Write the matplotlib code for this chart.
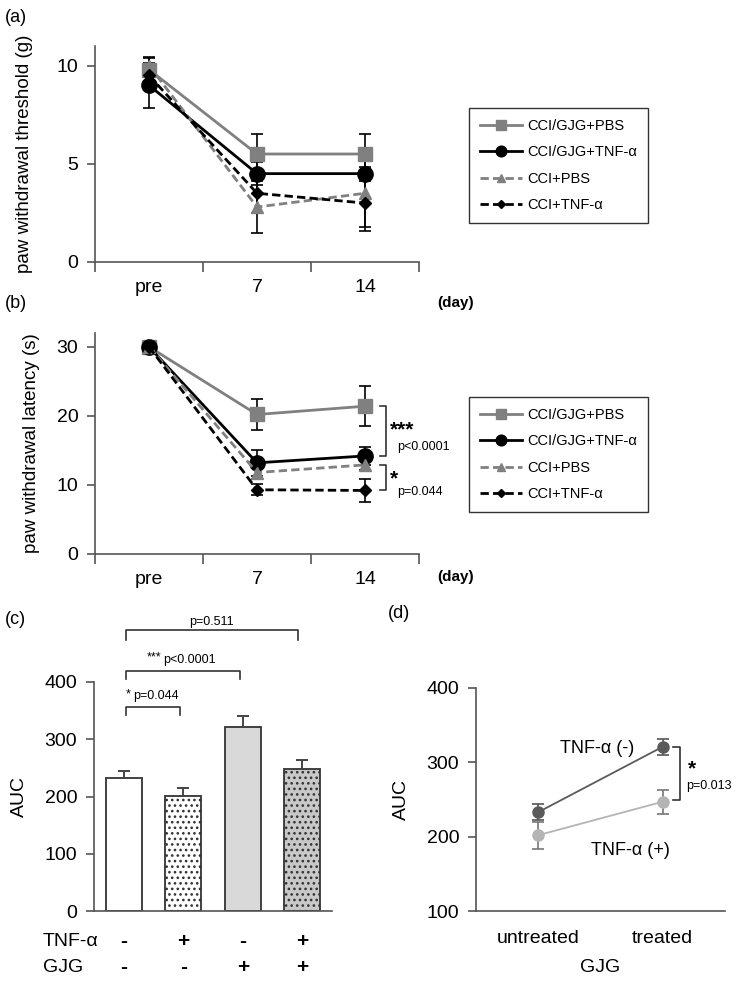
import matplotlib
matplotlib.use("Agg")
import matplotlib.pyplot as plt
import numpy as np

plt.rcParams['font.family'] = ['Liberation Sans', 'DejaVu Sans']
plt.rcParams['hatch.linewidth'] = 1.1

# ---------------- data ----------------
days = ["pre", "7", "14"]
series_names = ["CCI/GJG+PBS", "CCI/GJG+TNF-\u03b1", "CCI+PBS", "CCI+TNF-\u03b1"]

# (a) paw withdrawal threshold (g)
thr_gjg_pbs = [9.8, 5.5, 5.5]
thr_gjg_pbs_err = [0.6, 1.0, 1.0]
thr_gjg_tnf = [9.0, 4.5, 4.5]
thr_gjg_tnf_err = [1.15, 0.6, 0.35]
thr_cci_pbs = [10.0, 2.8, 3.5]
thr_cci_pbs_err = [0.45, 1.3, 1.7]
thr_cci_tnf = [9.5, 3.5, 3.0]
thr_cci_tnf_err = [0.5, 1.0, 1.4]

# (b) paw withdrawal latency (s)
lat_gjg_pbs = [30.0, 20.2, 21.4]
lat_gjg_pbs_err = [0.3, 2.3, 2.9]
lat_gjg_tnf = [30.0, 13.2, 14.2]
lat_gjg_tnf_err = [0.3, 1.9, 1.3]
lat_cci_pbs = [30.0, 11.8, 12.9]
lat_cci_pbs_err = [0.3, 0.9, 0.8]
lat_cci_tnf = [30.0, 9.3, 9.2]
lat_cci_tnf_err = [0.3, 0.8, 1.7]

# (c) AUC bars
auc_vals = [233, 201, 322, 248]
auc_err = [11, 13, 19, 16]
tnf_signs = ["-", "+", "-", "+"]
gjg_signs = ["-", "-", "+", "+"]

# (d) AUC interaction
gjg_levels = ["untreated", "treated"]
auc_tnf_neg = [233, 321]
auc_tnf_neg_err = [11, 11]
auc_tnf_pos = [202, 247]
auc_tnf_pos_err = [18, 16]

# ---------------- figure ----------------
W, H = 742, 982
fig = plt.figure(figsize=(W / 100, H / 100), dpi=100)

def ax_at(l, r, t, b):
    return fig.add_axes([l / W, 1 - b / H, (r - l) / W, (b - t) / H])

SP = '#555555'
GRAY = '#808080'

styles = [
    dict(color=GRAY, ls='-', marker='s', ms=10, lw=2),
    dict(color='black', ls='-', marker='o', ms=11, lw=2),
    dict(color=GRAY, ls=(0, (3, 1.5)), marker='^', ms=8, lw=2),
    dict(color='black', ls=(0, (3, 1.5)), marker='D', ms=6, lw=2),
]

def style_line_axes(ax, ylim, yticks):
    for s in ['top', 'right']:
        ax.spines[s].set_visible(False)
    for s in ['left', 'bottom']:
        ax.spines[s].set_color(SP)
        ax.spines[s].set_linewidth(1.2)
    ax.set_xlim(0, 3)
    ax.set_ylim(*ylim)
    ax.set_yticks(yticks)
    ax.set_xticks([0, 1, 2, 3])
    ax.set_xticklabels([])
    ax.set_xticks([0.5, 1.5, 2.5], minor=True)
    ax.set_xticklabels(days, minor=True)
    ax.tick_params(axis='x', which='minor', length=0, labelsize=14, pad=12)
    ax.tick_params(axis='x', which='major', length=7, width=1.2, color=SP)
    ax.tick_params(axis='y', length=6, width=1.2, color=SP, labelsize=14, pad=6)

def draw_lines(ax, vals, errs):
    x = np.array([0.5, 1.5, 2.5])
    handles = []
    for v, e in zip(vals, errs):
        ax.errorbar(x, v, yerr=e, fmt='none', ecolor='black', elinewidth=1.2,
                    capsize=4, capthick=1.2, zorder=2)
    for v, st, nm in zip(vals, styles, series_names):
        h, = ax.plot(x, v, color=st['color'], ls=st['ls'], lw=st['lw'],
                     marker=st['marker'], ms=st['ms'], mfc=st['color'],
                     mec=st['color'], label=nm, zorder=3)
        handles.append(h)
    return handles

def add_legend(ax, handles, top):
    leg = ax.legend(handles=handles, loc='upper left',
                    bbox_to_anchor=(469 / W, 1 - top / H),
                    bbox_transform=fig.transFigure, borderaxespad=0,
                    fontsize=10.5, handlelength=2.9, handletextpad=0.35,
                    labelspacing=0.85, borderpad=0.75, markerscale=0.7,
                    fancybox=False, framealpha=1)
    leg.get_frame().set_edgecolor('#333333')
    leg.get_frame().set_linewidth(1.0)

# (a)
axa = ax_at(95, 419, 46, 262)
style_line_axes(axa, (0, 11), [0, 5, 10])
ha = draw_lines(axa, [thr_gjg_pbs, thr_gjg_tnf, thr_cci_pbs, thr_cci_tnf],
                [thr_gjg_pbs_err, thr_gjg_tnf_err, thr_cci_pbs_err, thr_cci_tnf_err])
axa.set_ylabel("paw withdrawal threshold (g)", fontsize=13.5, labelpad=17)
add_legend(axa, ha, 108)
fig.text(5 / W, 1 - 17 / H, "(a)", fontsize=13, va='center', ha='left')
fig.text(437 / W, 1 - 303 / H, "(day)", fontsize=11, fontweight='bold', va='center', ha='left')

# (b)
axb = ax_at(95, 419, 333, 554)
style_line_axes(axb, (0, 32), [0, 10, 20, 30])
hb = draw_lines(axb, [lat_gjg_pbs, lat_gjg_tnf, lat_cci_pbs, lat_cci_tnf],
                [lat_gjg_pbs_err, lat_gjg_tnf_err, lat_cci_pbs_err, lat_cci_tnf_err])
axb.set_ylabel("paw withdrawal latency (s)", fontsize=13.5, labelpad=12)
add_legend(axb, hb, 397)
fig.text(5 / W, 1 - 303 / H, "(b)", fontsize=13, va='center', ha='left')
fig.text(437 / W, 1 - 577 / H, "(day)", fontsize=11, fontweight='bold', va='center', ha='left')

# brackets in (b)
def vbracket(ax, x0, x1, y0, y1, color='#333333'):
    ax.plot([x0, x1, x1, x0], [y0, y0, y1, y1], color=color, lw=1.2, clip_on=False)

vbracket(axb, 2.64, 2.69, lat_gjg_pbs[2], lat_gjg_tnf[2])
axb.text(2.73, 18.0, "***", fontsize=15, fontweight='bold', ha='left', va='center', clip_on=False)
axb.text(2.80, 15.5, "p<0.0001", fontsize=9, ha='left', va='center', clip_on=False)
vbracket(axb, 2.64, 2.69, lat_cci_pbs[2], lat_cci_tnf[2])
axb.text(2.73, 10.9, "*", fontsize=15, fontweight='bold', ha='left', va='center', clip_on=False)
axb.text(2.80, 9.0, "p=0.044", fontsize=9, ha='left', va='center', clip_on=False)

# (c)
axc = ax_at(94, 332, 682, 911)
for s in ['top', 'right']:
    axc.spines[s].set_visible(False)
for s in ['left', 'bottom']:
    axc.spines[s].set_color(SP)
    axc.spines[s].set_linewidth(1.2)
xc = np.arange(4)
facecolors = ['white', 'white', '#d9d9d9', '#c8c8c8']
hatches = [None, '...', None, '...']
for i in range(4):
    axc.bar(xc[i], auc_vals[i], width=0.6, color=facecolors[i], edgecolor='#333333',
            linewidth=1.3, hatch=hatches[i], zorder=2)
axc.errorbar(xc, auc_vals, yerr=[np.zeros(4), auc_err], fmt='none', ecolor='#444444',
             elinewidth=1.4, capsize=4, capthick=1.4, zorder=3)
axc.set_xlim(-0.5, 3.5)
axc.set_ylim(0, 400)
axc.set_yticks([0, 100, 200, 300, 400])
axc.set_xticks([])
axc.tick_params(axis='y', length=6, width=1.2, color=SP, labelsize=14, pad=6)
axc.set_ylabel("AUC", fontsize=14, labelpad=12)

def hbracket(ax, x0, x1, y, leg):
    ax.plot([x0, x0, x1, x1], [y - leg, y, y, y - leg], color='#333333', lw=1.2, clip_on=False)

hbracket(axc, 0.03, 2.93, 491, 17)
axc.text(1.48, 505, "p=0.511", fontsize=9, ha='center', va='center', clip_on=False)
hbracket(axc, 0.03, 1.96, 419, 14)
axc.text(0.38, 443, "***", fontsize=9, ha='left', va='center', clip_on=False)
axc.text(0.66, 439, "p<0.0001", fontsize=9, ha='left', va='center', clip_on=False)
hbracket(axc, 0.03, 0.94, 357, 14)
axc.text(0.03, 379, "*", fontsize=9, ha='left', va='center', clip_on=False)
axc.text(0.15, 375, "p=0.044", fontsize=9, ha='left', va='center', clip_on=False)

for i in range(4):
    axc.text(xc[i], -0.135, tnf_signs[i], transform=axc.get_xaxis_transform(),
             fontsize=15, fontweight='bold', ha='center', va='center', clip_on=False)
    axc.text(xc[i], -0.245, gjg_signs[i], transform=axc.get_xaxis_transform(),
             fontsize=15, fontweight='bold', ha='center', va='center', clip_on=False)
fig.text(43 / W, 1 - 942 / H, "TNF-\u03b1", fontsize=14, ha='left', va='center')
fig.text(43 / W, 1 - 967 / H, "GJG", fontsize=14, ha='left', va='center')
fig.text(5 / W, 1 - 619 / H, "(c)", fontsize=13, va='center', ha='left')

# (d)
axd = ax_at(476, 725, 688, 911)
for s in ['top', 'right']:
    axd.spines[s].set_visible(False)
for s in ['left', 'bottom']:
    axd.spines[s].set_color(SP)
    axd.spines[s].set_linewidth(1.2)
xd = np.arange(2)
c_neg, c_pos = '#5a5a5a', '#b4b4b4'
axd.errorbar(xd, auc_tnf_pos, yerr=auc_tnf_pos_err, color=c_pos, lw=1.3, marker='o', ms=8,
             ecolor='#777777', elinewidth=1.2, capsize=4, capthick=1.2, zorder=2)
axd.errorbar(xd, auc_tnf_neg, yerr=auc_tnf_neg_err, color=c_neg, lw=1.3, marker='o', ms=8,
             ecolor='#555555', elinewidth=1.2, capsize=4, capthick=1.2, zorder=3)
axd.set_xlim(-0.5, 1.5)
axd.set_ylim(100, 400)
axd.set_yticks([100, 200, 300, 400])
axd.set_xticks(xd)
axd.set_xticklabels(gjg_levels)
axd.tick_params(axis='x', length=0, labelsize=14, pad=14)
axd.tick_params(axis='y', length=6, width=1.2, color=SP, labelsize=14, pad=6)
axd.set_ylabel("AUC", fontsize=14, labelpad=12)
axd.set_xlabel("GJG", fontsize=14, labelpad=8)
axd.text(0.47, 318, "TNF-\u03b1 (-)", fontsize=13, ha='center', va='center')
axd.text(0.74, 182, "TNF-\u03b1 (+)", fontsize=13, ha='center', va='center')
vbx0, vbx1 = 1.08, 1.14
axd.plot([vbx0, vbx1, vbx1, vbx0], [auc_tnf_neg[1], auc_tnf_neg[1], auc_tnf_pos[1] + 2, auc_tnf_pos[1] + 2],
         color='#333333', lw=1.2, clip_on=False)
axd.text(1.2, 291, "*", fontsize=15, fontweight='bold', ha='left', va='center', clip_on=False)
axd.text(1.19, 268, "p=0.013", fontsize=9, ha='left', va='center', clip_on=False)
fig.text(388 / W, 1 - 613 / H, "(d)", fontsize=13, va='center', ha='left')

fig.savefig("out.png", dpi=100)
